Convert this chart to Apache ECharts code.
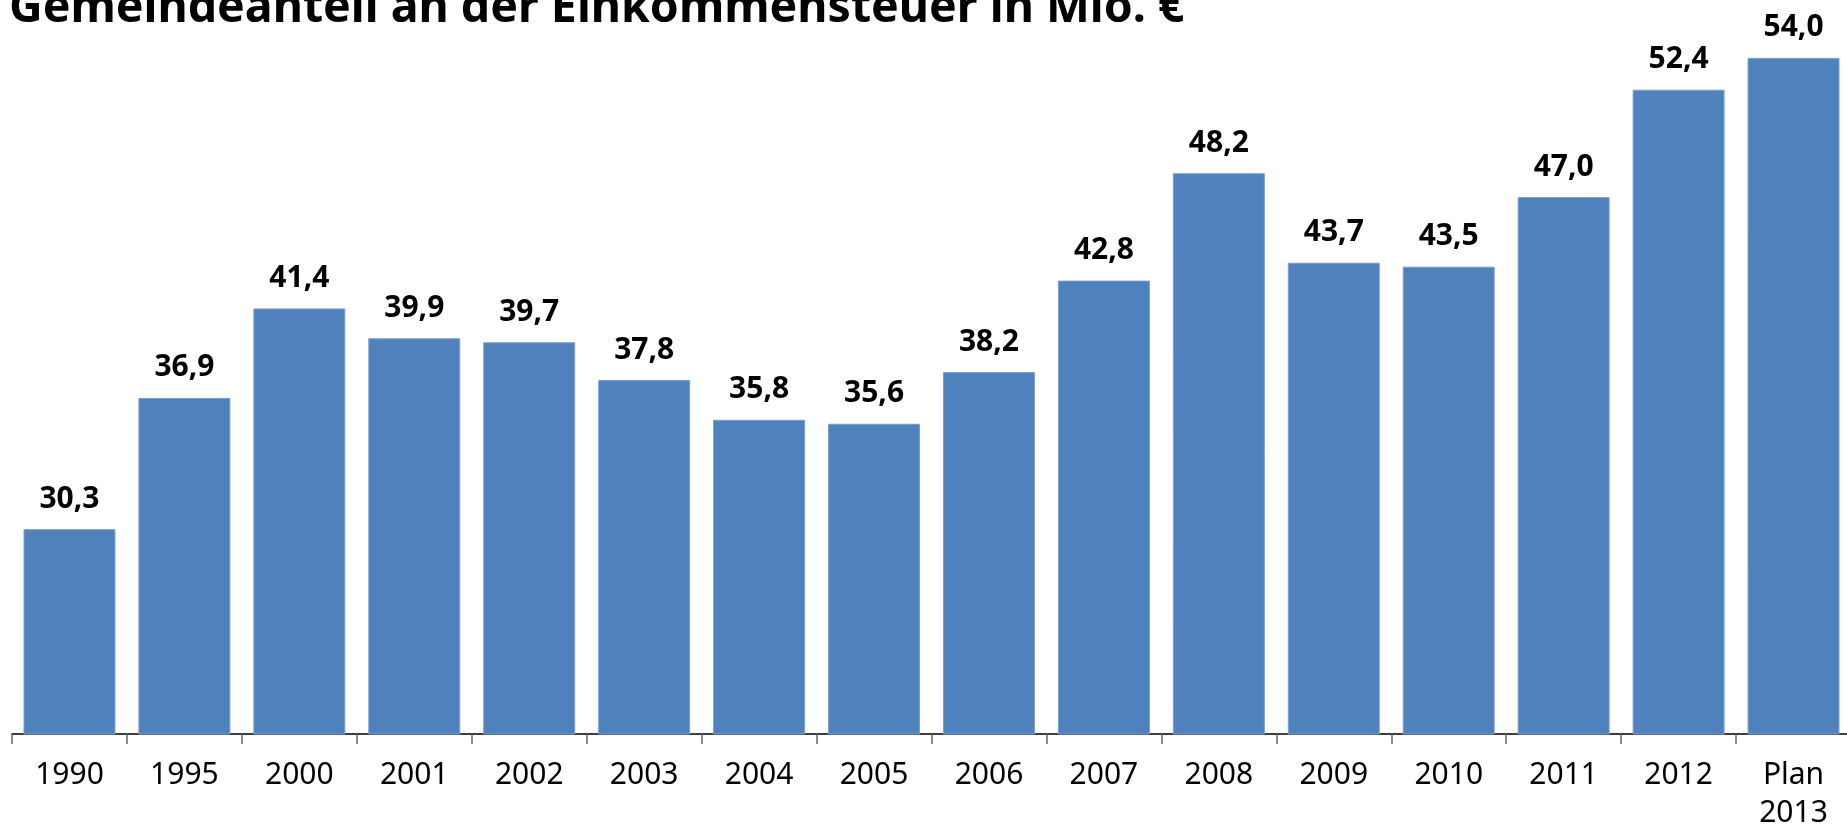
<!DOCTYPE html>
<html>
<head>
<meta charset="utf-8">
<script src="https://cdn.jsdelivr.net/npm/echarts@6/dist/echarts.min.js"></script>
<style>
  html, body { margin: 0; padding: 0; background: #fff; }
  #chart { width: 1847px; height: 828px; }
</style>
</head>
<body>
<div id="chart"></div>
<script>
const years = ['1990', '1995', '2000', '2001', '2002', '2003', '2004', '2005',
    '2006', '2007', '2008', '2009', '2010', '2011', '2012', 'Plan\n2013'];
const values = [30.3, 36.9, 41.4, 39.9, 39.7, 37.8, 35.8, 35.6,
    38.2, 42.8, 48.2, 43.7, 43.5, 47.0, 52.4, 54.0];

const chart = echarts.init(document.getElementById('chart'));

const option = {
    animation: false,
    title: {
        text: 'Gemeindeanteil an der Einkommensteuer in Mio. €',
        left: 4,
        top: -20,
        textStyle: {
            fontFamily: 'Noto Sans',
            fontWeight: 'bold',
            fontSize: 46.5,
            color: '#000'
        }
    },
    grid: {
        left: 12,
        top: 38,
        bottom: 94,
        width: 1839,
        containLabel: false,
        outerBoundsMode: 'none'
    },
    xAxis: {
        type: 'category',
        data: years,
        axisLine: { show: true, lineStyle: { color: '#000', width: 1.5 } },
        axisTick: {
            show: true,
            interval: 0,
            alignWithLabel: false,
            length: 10,
            lineStyle: { color: '#666', width: 1.5 }
        },
        axisLabel: {
            margin: 22,
            fontFamily: 'Noto Sans',
            fontSize: 30,
            lineHeight: 38,
            color: '#000'
        }
    },
    yAxis: {
        type: 'value',
        min: 20,
        max: 55,
        show: false,
        splitLine: { show: false }
    },
    series: [{
        type: 'bar',
        data: values,
        barCategoryGap: '20%',
        itemStyle: { color: '#4F81BD', borderColor: '#7B9ED0', borderWidth: 1 },
        label: {
            show: true,
            position: 'top',
            distance: 15,
            fontFamily: 'Noto Sans',
            fontWeight: 'bold',
            fontSize: 30,
            color: '#000',
            formatter: p => p.value.toFixed(1).replace('.', ',')
        }
    }]
};

chart.setOption(option);
window.addEventListener('resize', () => chart.resize());
</script>
</body>
</html>
